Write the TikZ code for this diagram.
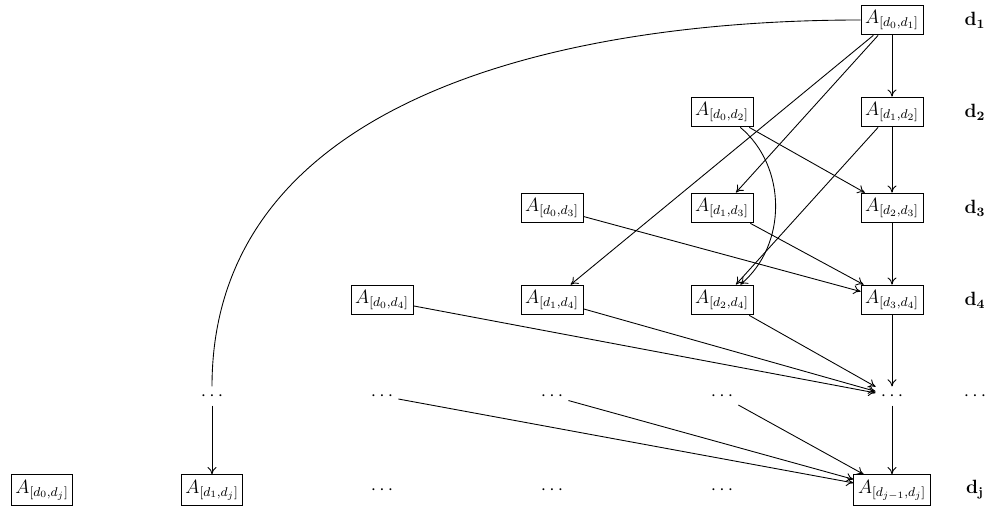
\documentclass[tikz,border=0pt]{standalone}
\usetikzlibrary{arrows.meta}
\begin{document}
\begin{tikzpicture}[x=0.625pt,y=-0.625pt,
  font=\large,
  line width=0.55pt,
  box/.style={draw, inner xsep=2.6pt, inner ysep=3.3pt},
  dotn/.style={inner sep=3pt},
  rowlab/.style={inner sep=2pt},
  arr/.style={-{To[length=4.5pt,width=5.6pt]}}]
\useasboundingbox (0,0) rectangle (989,508);
% row 1
\node[box] (a01) at (892,20) {$A_{[d_0,d_1]}$};
\node[rowlab] (l1) at (975,20) {$\mathbf{d_1}$};
% row 2
\node[box] (a02) at (722,112) {$A_{[d_0,d_2]}$};
\node[box] (a12) at (892,112) {$A_{[d_1,d_2]}$};
\node[rowlab] (l2) at (975,112) {$\mathbf{d_2}$};
% row 3
\node[box] (a03) at (552,208) {$A_{[d_0,d_3]}$};
\node[box] (a13) at (722,208) {$A_{[d_1,d_3]}$};
\node[box] (a23) at (892,208) {$A_{[d_2,d_3]}$};
\node[rowlab] (l3) at (975,208) {$\mathbf{d_3}$};
% row 4
\node[box] (a04) at (382,300) {$A_{[d_0,d_4]}$};
\node[box] (a14) at (552,300) {$A_{[d_1,d_4]}$};
\node[box] (a24) at (722,300) {$A_{[d_2,d_4]}$};
\node[box] (a34) at (892,300) {$A_{[d_3,d_4]}$};
\node[rowlab] (l4) at (975,300) {$\mathbf{d_4}$};
% row 5
\node[dotn] (e1) at (212,396) {$\cdots$};
\node[dotn] (e2) at (382,396) {$\cdots$};
\node[dotn] (e3) at (552,396) {$\cdots$};
\node[dotn] (e4) at (722,396) {$\cdots$};
\node[dotn] (e5) at (892,396) {$\cdots$};
\node[dotn] (e6) at (975,396) {$\cdots$};
% row 6
\node[box] (a0j) at (42,490) {$A_{[d_0,d_j]}$};
\node[box] (a1j) at (212,490) {$A_{[d_1,d_j]}$};
\node[dotn] (f3) at (382,490) {$\cdots$};
\node[dotn] (f4) at (552,490) {$\cdots$};
\node[dotn] (f5) at (722,490) {$\cdots$};
\node[box] (ajj) at (892,490) {$A_{[d_{j-1},d_j]}$};
\node[rowlab] (lj) at (975,490) {$\mathbf{d_j}$};
% edges
\draw[arr] (a01) -- (a12);
\draw[arr] (a01) -- (a13);
\draw[arr] (a01) -- (a14);
\draw (a01.west) to[out=180,in=90] (e1);
\draw[arr] (e1) -- (a1j);
\draw[arr] (a02) -- (a23);
\draw[arr] (a02) to[bend left=50] (a24);
\draw[arr] (a12) -- (a23);
\draw[arr] (a12) -- (a24);
\draw[arr] (a03) -- (a34);
\draw[arr] (a13) -- (a34);
\draw[arr] (a23) -- (a34);
\draw[arr] (a04) -- (e5);
\draw[arr] (a14) -- (e5);
\draw[arr] (a24) -- (e5);
\draw[arr] (a34) -- (e5);
\draw[arr] (e2) -- (ajj);
\draw[arr] (e3) -- (ajj);
\draw[arr] (e4) -- (ajj);
\draw[arr] (e5) -- (ajj);
\end{tikzpicture}
\end{document}
